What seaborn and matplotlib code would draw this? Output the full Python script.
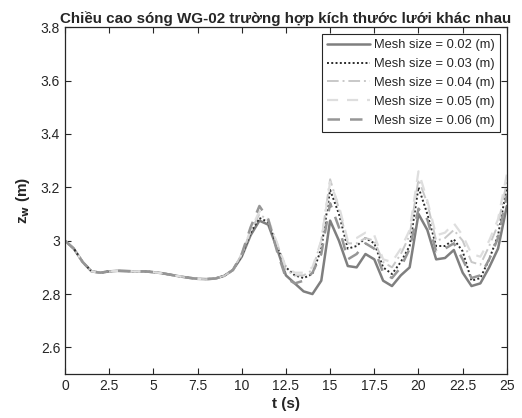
import numpy as np
import pandas as pd
import matplotlib
matplotlib.use("Agg")
import matplotlib.pyplot as plt
from matplotlib.ticker import FuncFormatter
import seaborn as sns

# time axis (s)
t = [0, 0.5, 1.0, 1.5, 2.0, 2.5, 3.0, 3.5, 4.0, 4.5, 5.0, 5.5, 6.0, 6.5, 7.0, 7.5,
     8.0, 8.5, 9.0, 9.5, 10.0, 10.5, 11.0, 11.5, 12.0, 12.5, 13.0, 13.5, 14.0, 14.5,
     15.0, 15.5, 16.0, 16.5, 17.0, 17.5, 18.0, 18.5, 19.0, 19.5, 20.0, 20.5, 21.0,
     21.5, 22.0, 22.5, 23.0, 23.5, 24.0, 24.5, 25.0]

# common first part (0 .. 9.5 s)
base = [3.00, 2.97, 2.92, 2.885, 2.88, 2.885, 2.887, 2.886, 2.885, 2.885, 2.882,
        2.878, 2.872, 2.866, 2.861, 2.857, 2.856, 2.858, 2.868, 2.89]

z_002 = base + [2.94, 3.02, 3.075, 3.06, 2.97, 2.87, 2.84, 2.81, 2.80, 2.85,
                3.075, 3.00, 2.905, 2.90, 2.95, 2.93, 2.85, 2.83, 2.87, 2.90,
                3.10, 3.04, 2.93, 2.935, 2.965, 2.88, 2.83, 2.84, 2.90, 2.97, 3.13]
z_003 = base + [2.945, 3.03, 3.085, 3.07, 2.98, 2.90, 2.87, 2.86, 2.875, 2.97,
                3.19, 3.10, 2.97, 2.98, 3.01, 2.99, 2.90, 2.875, 2.92, 2.98,
                3.20, 3.10, 2.98, 2.98, 3.005, 2.96, 2.85, 2.86, 2.93, 3.02, 3.20]
z_004 = base + [2.95, 3.035, 3.10, 3.075, 2.99, 2.89, 2.87, 2.87, 2.89, 3.00,
                3.23, 3.12, 2.99, 2.99, 3.01, 3.00, 2.92, 2.90, 2.95, 3.02,
                3.23, 3.14, 3.00, 3.01, 3.04, 3.00, 2.92, 2.91, 2.98, 3.06, 3.22]
z_005 = base + [2.95, 3.04, 3.11, 3.08, 2.99, 2.90, 2.88, 2.88, 2.90, 3.00,
                3.22, 3.13, 3.00, 3.01, 3.03, 3.02, 2.93, 2.92, 2.97, 3.04,
                3.26, 3.15, 3.02, 3.03, 3.065, 3.02, 2.95, 2.94, 3.00, 3.08, 3.25]
z_006 = base + [2.95, 3.05, 3.13, 3.08, 2.96, 2.86, 2.84, 2.85, 2.88, 2.95,
                3.14, 3.05, 2.93, 2.95, 2.99, 2.97, 2.88, 2.86, 2.90, 2.97,
                3.12, 3.08, 2.96, 2.97, 2.99, 2.93, 2.86, 2.87, 2.93, 3.01, 3.17]

labels = ["Mesh size = 0.02 (m)", "Mesh size = 0.03 (m)", "Mesh size = 0.04 (m)",
          "Mesh size = 0.05 (m)", "Mesh size = 0.06 (m)"]
series = [z_002, z_003, z_004, z_005, z_006]

styles = [
    dict(color="#7f7f7f", linestyle="-", linewidth=1.8),
    dict(color="#2b2b2b", linestyle=(0, (1, 1.2)), linewidth=1.4),
    dict(color="#c8c8c8", linestyle=(0, (6, 2, 1, 2)), linewidth=1.4),
    dict(color="#dedede", linestyle=(0, (5, 4)), linewidth=1.6),
    dict(color="#969696", linestyle=(0, (5, 4)), linewidth=1.8),
]

sns.set_style("ticks")
plt.rcParams["font.family"] = ["Liberation Sans", "DejaVu Sans"]
plt.rcParams["xtick.direction"] = "in"
plt.rcParams["ytick.direction"] = "in"

fig = plt.figure(figsize=(5.22, 4.18), dpi=100)
ax = fig.add_axes([0.1245, 0.105, 0.8465, 0.83])

for vals, lab, st in zip(series, labels, styles):
    sns.lineplot(x=t, y=vals, ax=ax, label=lab, **st)

ax.set_xlim(0, 25)
ax.set_ylim(2.5, 3.8)
ax.set_xticks(np.arange(0, 25.1, 2.5))
ax.set_yticks(np.arange(2.6, 3.81, 0.2))
fmt = FuncFormatter(lambda v, p: "%g" % round(v, 2))
ax.xaxis.set_major_formatter(fmt)
ax.yaxis.set_major_formatter(fmt)
ax.tick_params(top=True, right=True, labelsize=10, length=4, width=0.8, colors="#262626")
for sp in ax.spines.values():
    sp.set_linewidth(0.9)
    sp.set_color("#262626")

ax.set_title("Chiều cao sóng WG-02 trường hợp kích thước lưới khác nhau",
             fontsize=10.9, fontweight="bold", pad=3)
ax.set_xlabel("t (s)", fontsize=11, fontweight="bold", labelpad=3)
ax.set_ylabel("z$_\\mathbf{w}$ (m)", fontsize=11, fontweight="bold", labelpad=6)

leg = ax.legend(loc="upper right", fontsize=9.3, frameon=True, fancybox=False,
                borderpad=0.45, handlelength=3.3, labelspacing=0.52,
                borderaxespad=0.5, handletextpad=0.3)
leg.get_frame().set_edgecolor("#262626")
leg.get_frame().set_linewidth(0.8)
leg.get_frame().set_alpha(1)

fig.savefig("out.png", dpi=100)
